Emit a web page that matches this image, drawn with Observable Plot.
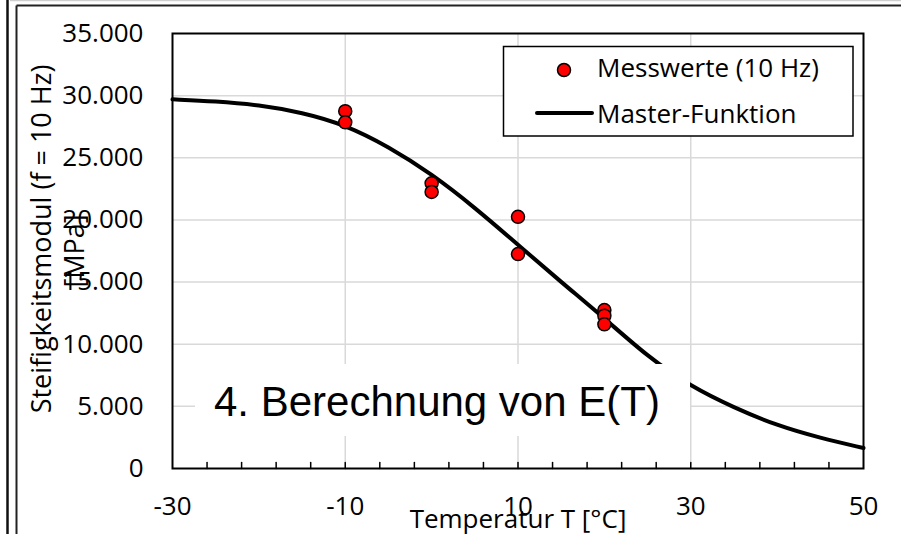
<!DOCTYPE html>
<html><head><meta charset="utf-8">
<script src="https://cdn.jsdelivr.net/npm/d3@7"></script>
<script src="https://cdn.jsdelivr.net/npm/@observablehq/plot@0.6"></script>
<style>
body{margin:0;background:#fff;}
#wrap{position:relative;width:901px;height:534px;overflow:hidden;font-family:"Open Sans",sans-serif;}
#wrap svg.ov{position:absolute;left:0;top:0;pointer-events:none;}
</style></head><body><div id="wrap"></div>
<script>
// ---- data ----
const xTickLabels = [-30, -10, 10, 30, 50];
const xMinorTicks = [-26, -22, -18, -14, -10, -6, -2, 2, 6, 10, 14, 18, 22, 26, 30, 34, 38, 42, 46];
const yTicks = [0, 5000, 10000, 15000, 20000, 25000, 30000, 35000];
const yGrid = [5000, 10000, 15000, 20000, 25000, 30000];
const xGrid = [-10, 10, 30];
const masterT = [-30, -25, -20, -15, -10, -5, 0, 5, 10, 15, 20, 25, 30, 35, 40, 45, 50];
const masterE = [29700, 29550, 29250, 28650, 27650, 25900, 23700, 21000, 18000, 15000, 12100, 9000, 6600, 4900, 3450, 2450, 1650];
const measT = [-10, -10, 0, 0, 10, 10, 20, 20, 20];
const measE = [28750, 27850, 22950, 22250, 20250, 17250, 12750, 12300, 11600];
const legendLabels = ["Messwerte (10 Hz)", "Master-Funktion"];
const xTitle = "Temperatur T [°C]";
const yTitle1 = "Steifigkeitsmodul (f = 10 Hz)";
const yTitle2 = "[MPa]";
const boxText = "4. Berechnung von E(T)";

// ---- build ----
const master = masterT.map((t, i) => ({t, e: masterE[i]}));
const meas = measT.map((t, i) => ({t, e: measE[i]}));
const de = d3.formatLocale({decimal: ",", thousands: ".", grouping: [3], currency: ["", "€"]});
const fmt = de.format(",");
const tickUp = {draw(ctx, l) { ctx.moveTo(0, 0); ctx.lineTo(0, -l); }};

const chart = Plot.plot({
  width: 901, height: 534,
  marginLeft: 172, marginRight: 38, marginTop: 33, marginBottom: 66,
  style: {fontFamily: "'Open Sans', sans-serif", fontSize: "26px", color: "black", background: "white"},
  x: {domain: [-30, 50]},
  y: {domain: [0, 35000]},
  marks: [
    Plot.gridX(xGrid, {stroke: "#d9d9d9", strokeOpacity: 1, strokeWidth: 1.5}),
    Plot.gridY(yGrid, {stroke: "#d9d9d9", strokeOpacity: 1, strokeWidth: 1.5}),
    Plot.axisY(yTicks, {tickSize: 0, tickPadding: 29, tickFormat: fmt, fontSize: 26, label: null}),
    Plot.axisX(xTickLabels, {tickSize: 0, tickPadding: 28, tickFormat: d => String(d), fontSize: 26, label: null}),
    Plot.vector(xMinorTicks, {x: d => d, frameAnchor: "bottom", length: 6, anchor: "start", rotate: 0, shape: tickUp, stroke: "black", strokeWidth: 1.5}),
    Plot.line(master, {x: "t", y: "e", stroke: "black", strokeWidth: 4, curve: "basis"}),
    Plot.dot(meas, {x: "t", y: "e", r: 6.5, fill: "#ff0000", stroke: "black", strokeWidth: 1.5}),
    Plot.frame({stroke: "black", strokeWidth: 2}),
    Plot.text([xTitle], {frameAnchor: "bottom", textAnchor: "middle", lineAnchor: "bottom", dy: 59, fontSize: 26, fill: "black"}),
    Plot.text([yTitle1], {frameAnchor: "left", textAnchor: "middle", rotate: -90, lineAnchor: "bottom", dx: -122, dy: -12, fontSize: 27, fill: "black"}),
    Plot.text([yTitle2], {frameAnchor: "left", textAnchor: "middle", rotate: -90, lineAnchor: "bottom", dx: -89, dy: 0, fontSize: 27, fill: "black"})
  ]
});
const wrap = document.getElementById("wrap");
wrap.appendChild(chart);

const NS = "http://www.w3.org/2000/svg";
const ov = document.createElementNS(NS, "svg");
ov.setAttribute("class", "ov");
ov.setAttribute("width", 901); ov.setAttribute("height", 534);
ov.innerHTML = `
  <line x1="7.5" y1="0" x2="7.5" y2="534" stroke="#111" stroke-width="2.5"/>
  <line x1="10" y1="0.5" x2="901" y2="0.5" stroke="#cfcfcf" stroke-width="1.5"/>
  <line x1="16.5" y1="5.5" x2="901" y2="5.5" stroke="#222" stroke-width="2"/>
  <line x1="16.5" y1="5.5" x2="16.5" y2="534" stroke="#222" stroke-width="2"/>
  <rect x="503.5" y="46.5" width="349.5" height="89.5" fill="white" stroke="black" stroke-width="1.5"/>
  <circle cx="564" cy="70" r="6.5" fill="#ff0000" stroke="black" stroke-width="1.5"/>
  <text x="597" y="77" font-family="'Open Sans', sans-serif" font-size="26" fill="black">${legendLabels[0]}</text>
  <line x1="537" y1="113" x2="592" y2="113" stroke="black" stroke-width="4" stroke-linecap="round"/>
  <text x="597" y="123" font-family="'Open Sans', sans-serif" font-size="26" fill="black">${legendLabels[1]}</text>
  <rect x="195" y="364" width="495" height="72" fill="white"/>
  <text x="214" y="416" font-family="'Liberation Sans', Arial, sans-serif" font-size="42" fill="black">${boxText}</text>
`;
wrap.appendChild(ov);
</script>
</body></html>
